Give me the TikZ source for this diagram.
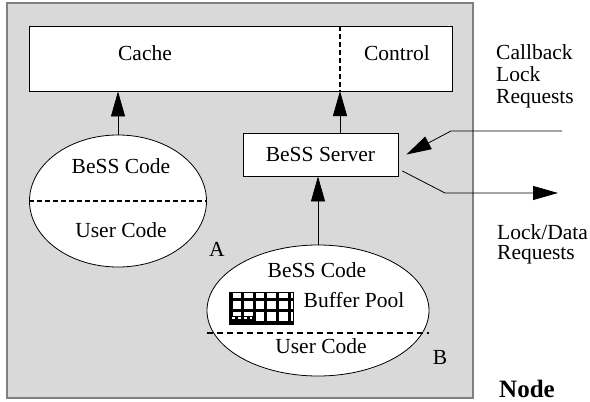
\documentclass[tikz,border=0pt]{standalone}
\usepackage{fontspec}
\setmainfont{Liberation Serif}
\usetikzlibrary{arrows.meta,shapes.geometric}

\begin{document}
\begin{tikzpicture}[
x=1pt,y=-1pt,
every node/.style={font=\fontsize{21.5}{22}\selectfont, inner sep=0pt},
box/.style={
draw,
fill=white,
line width=0.8pt
},
blob/.style={draw, ellipse, fill=white, line width=0.8pt},
txt/.style={anchor=base},
arrow/.style={-{Triangle[length=25pt,width=14pt]}, line width=0.8pt},
split/.style={line width=2.5pt, dash pattern=on 5pt off 3pt}
]
\useasboundingbox (0,0) rectangle (590,402);
% the node frame
\node[draw=gray, fill=gray!30, line width=1.5pt,
minimum width=466pt, minimum height=395pt] (host) at (240,200.5) {};
% cache / control store
\node[box, minimum width=423pt, minimum height=65pt] (store) at (240.5,58.5) {};
\coordinate (divtop) at (340,26);
\coordinate (divbot) at (340,91);
\draw[split] (divtop) -- (divbot);
\node[txt] (cache) at (145,60) {Cache};
\node[txt] (control) at (397,60) {Control};
% application A
\node[blob, minimum width=177pt, minimum height=132pt] (codeA) at (118,201) {};
\draw[split] (codeA.west) -- (codeA.east);
\node[txt] (bessA) at (121,173) {BeSS Code};
\node[txt] (userA) at (121,237.5) {User Code};
\node[txt] (labA) at (217,256) {A};
% server
\node[box, minimum width=155pt, minimum height=43pt] (server) at (320.5,154.5) {BeSS Server};
% application B
\node[blob, minimum width=222pt, minimum height=131pt] (codeB) at (318,310.5) {};
\draw[line width=2pt, dash pattern=on 6pt off 4pt]
([shift={(0,22.5)}]codeB.west) -- ([shift={(0,22.5)}]codeB.east);
\node[txt] (bessB) at (317,277) {BeSS Code};
\node[txt] (pool) at (354,307) {Buffer Pool};
\node[txt] (userB) at (321,353) {User Code};
\node[txt] (labB) at (440,364) {B};
% buffer pool grid
\node[draw, fill=white, line width=0.5pt, minimum width=64pt, minimum height=32pt] (grid) at (261,308) {};
\fill (grid.south west) rectangle (254,316);
\foreach \gx in {231,242,254,265,277,289} {
\draw[line width=3pt] (\gx,292) -- (\gx,324);
}
\foreach \gy in {299,310,322} {
\draw[line width=3pt] (229,\gy) -- (293,\gy);
}
\draw[white, line width=1.5pt, dash pattern=on 3pt off 3pt] (232,318) -- (252,318);
% connectors
\draw[arrow] (codeA.north) -- (codeA.north |- store.south);
\draw[arrow] (server.north -| divbot) -- (divbot);
\draw[arrow] (codeB.north) -- (codeB.north |- server.south);
% outside
\node[align=left, anchor=north west, font=\fontsize{21.5}{22}\selectfont] (callback) at (496,44) {Callback\\Lock\\Requests};
\node[align=left, anchor=north west, font=\fontsize{21.5}{20}\selectfont] (lockdata) at (497,224) {Lock/Data\\Requests};
\node[txt, font=\fontsize{25}{25}\bfseries] (nodelab) at (527,397) {Node};
\coordinate (cbin) at (562,131);
\coordinate (ldout) at (558,193);
\draw[arrow] (cbin) -- (451,131) -- ([xshift=8pt]server.east);
\draw[arrow] ([shift={(4,16.5)}]server.east) -- (445,193) -- (ldout);
\end{tikzpicture}
\end{document}
